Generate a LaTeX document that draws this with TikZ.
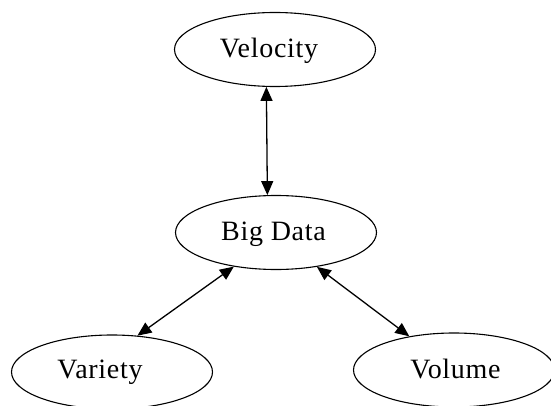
\documentclass[tikz,border=0pt]{standalone}
\usepackage{fontspec}
\setmainfont{Liberation Serif}[LetterSpace=2.5]
\usetikzlibrary{shapes.geometric,arrows.meta}
\begin{document}
\begin{tikzpicture}[x=1pt,y=-1pt,
  oval/.style={ellipse,draw,line width=1.1pt,minimum width=201pt,minimum height=74pt,inner sep=0pt},
  txt/.style={anchor=base,inner sep=0pt,font=\fontsize{28}{30}\selectfont},
  link/.style={line width=1.3pt,{Triangle[length=14pt,width=12pt]}-{Triangle[length=14pt,width=12pt]}}]
\useasboundingbox (0,0) rectangle (551,406);
\node[oval] (vel) at (275,49.5) {};
\node[oval] (bd) at (276,232.5) {};
\node[oval] (var) at (112,372) {};
\node[oval] (vol) at (454,370) {};
\node[txt] (velt) at (269,57.5) {Velocity};
\node[txt] (bdt) at (273.5,240) {Big Data};
\node[txt] (vart) at (100,378) {Variety};
\node[txt] (volt) at (455.5,378) {Volume};
\draw[link] (vel.257.6) -- (bd.103.5);
\draw[link] (bd.219) -- (var.55);
\draw[link] (bd.320) -- (vol.143);
\end{tikzpicture}
\end{document}
